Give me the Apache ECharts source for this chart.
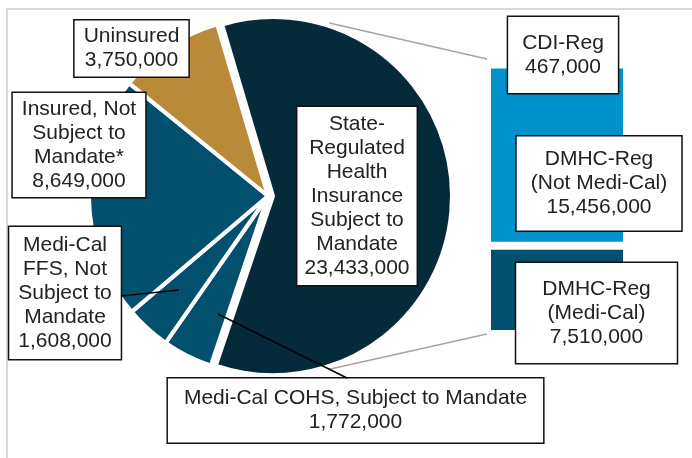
<!DOCTYPE html>
<html><head><meta charset="utf-8">
<script src="https://cdn.jsdelivr.net/npm/echarts@6/dist/echarts.min.js"></script>
<style>html,body{margin:0;padding:0;background:#fff}#c{width:692px;height:458px}</style>
</head><body><div id="c"></div>
<script>
// ---- data ----
const pieNames = ['State-Regulated Health Insurance Subject to Mandate', 'Medi-Cal COHS, Subject to Mandate', 'Medi-Cal FFS, Not Subject to Mandate', 'Insured, Not Subject to Mandate*', 'Uninsured'];
const pieLabels = ['State-\nRegulated\nHealth\nInsurance\nSubject to\nMandate', 'Medi-Cal COHS, Subject to Mandate', 'Medi-Cal\nFFS, Not\nSubject to\nMandate', 'Insured, Not\nSubject to\nMandate*', 'Uninsured'];
const pieValues = [23433000, 1772000, 1608000, 8649000, 3750000];
const barNames = ['DMHC-Reg (Medi-Cal)', 'DMHC-Reg (Not Medi-Cal)', 'CDI-Reg'];
const barLabels = ['DMHC-Reg\n(Medi-Cal)', 'DMHC-Reg\n(Not Medi-Cal)', 'CDI-Reg'];
const barValues = [7510000, 15456000, 467000];

// ---- styles / layout ----
const pieColors = ['#052A3A', '#02506E', '#02506E', '#02506E', '#B88A3A'];
const barColors = ['#02506E', '#0292CB', '#7FCBEE'];
const pieCenter = [268, 196], pieR = 179, explode = 5, startAngle = 106.5;
const grid = {left: 487, top: 59, width: 140, height: 275};
const fontFamily = '"Liberation Sans", Arial, sans-serif';
const pieLabelPos = [[357, 196], [355.5, 410.5], [65, 293], [79, 145], [131.5, 48.5]];
const piePad = [[5, 7], [8, 16], [6, 9], [4, 9], [4, 9]];
const barLabelPos = [[596.5, 313], [599, 183.5], [563, 55]];
const barPad = [[14, 26], [11, 14], [14, 14]];
const leaderLines = [[[121, 296], [179, 290]], [[347, 378], [218, 314]]];

const fmt = v => v.toLocaleString('en-US');
const labelBase = {
  show: true, color: '#222', fontFamily: fontFamily, fontSize: 21, lineHeight: 24,
  backgroundColor: '#fff', borderColor: '#111', borderWidth: 1.5, align: 'center'
};

const chart = echarts.init(document.getElementById('c'), null, {renderer: 'canvas'});

// two pie layers with identical angles: the State slice drawn exploded, the rest not
function pieLayer(showState, center) {
  return {
    type: 'pie', center: center, radius: pieR, startAngle: startAngle, clockwise: true,
    avoidLabelOverlap: false, silent: true,
    itemStyle: {borderColor: '#fff', borderWidth: 4},
    emphasis: {disabled: true},
    label: {position: 'outside'},
    labelLine: {show: false},
    labelLayout: (p) => ({x: pieLabelPos[p.dataIndex][0], y: pieLabelPos[p.dataIndex][1], align: 'center', verticalAlign: 'middle'}),
    data: pieNames.map((n, i) => {
      const vis = (i === 0) === showState;
      return {
        name: n, value: pieValues[i],
        itemStyle: vis ? {color: pieColors[i]} : {color: 'rgba(0,0,0,0)', borderColor: 'rgba(0,0,0,0)'},
        label: vis ? Object.assign({}, labelBase, {padding: piePad[i], formatter: pieLabels[i] + '\n' + fmt(pieValues[i])}) : {show: false}
      };
    }),
    z: 2
  };
}

const barSeries = barNames.map((n, i) => ({
  type: 'bar', name: n, stack: 'total', barWidth: '100%', silent: true,
  data: [barValues[i]],
  itemStyle: {color: barColors[i], borderColor: '#fff', borderWidth: 4},
  label: Object.assign({}, labelBase, {position: 'inside', padding: barPad[i], formatter: barLabels[i] + '\n' + fmt(barValues[i])}),
  labelLayout: () => ({x: barLabelPos[i][0], y: barLabelPos[i][1], align: 'center', verticalAlign: 'middle'}),
  z: 3
}));

const barTotal = barValues.reduce((a, b) => a + b, 0);

// connector lines from exploded slice edge to bar corners
const midAngle = (startAngle - 180 * pieValues[0] / pieValues.reduce((a, b) => a + b, 0)) * Math.PI / 180;
const cx = pieCenter[0] + explode * Math.cos(midAngle), cy = pieCenter[1] - explode * Math.sin(midAngle);
const rad = 72 * Math.PI / 180, rr = pieR + 3;
const topStart = [cx + rr * Math.cos(rad), cy - rr * Math.sin(rad)];
const botStart = [cx + rr * Math.cos(rad), cy + rr * Math.sin(rad)];

const lineGraphics = leaderLines.map(l => ({
  type: 'line', shape: {x1: l[0][0], y1: l[0][1], x2: l[1][0], y2: l[1][1]},
  style: {stroke: '#000', lineWidth: 1.5}, z: 10
}));

chart.setOption({
  animation: false,
  backgroundColor: '#fff',
  grid: grid,
  xAxis: {type: 'category', data: [''], show: false},
  yAxis: {type: 'value', min: 0, max: barTotal, show: false},
  graphic: [
    {type: 'rect', shape: {x: 7, y: 9, width: 720, height: 480}, style: {fill: 'none', stroke: '#D9D9D9', lineWidth: 2}, z: 0},
    {type: 'line', shape: {x1: topStart[0], y1: topStart[1], x2: grid.left, y2: grid.top}, style: {stroke: '#A9A3A6', lineWidth: 1.5}, z: 1},
    {type: 'line', shape: {x1: botStart[0], y1: botStart[1], x2: grid.left, y2: grid.top + grid.height}, style: {stroke: '#A9A3A6', lineWidth: 1.5}, z: 1}
  ].concat(lineGraphics),
  series: [
    pieLayer(false, pieCenter),
    pieLayer(true, [cx, cy])
  ].concat(barSeries)
});
</script></body></html>
